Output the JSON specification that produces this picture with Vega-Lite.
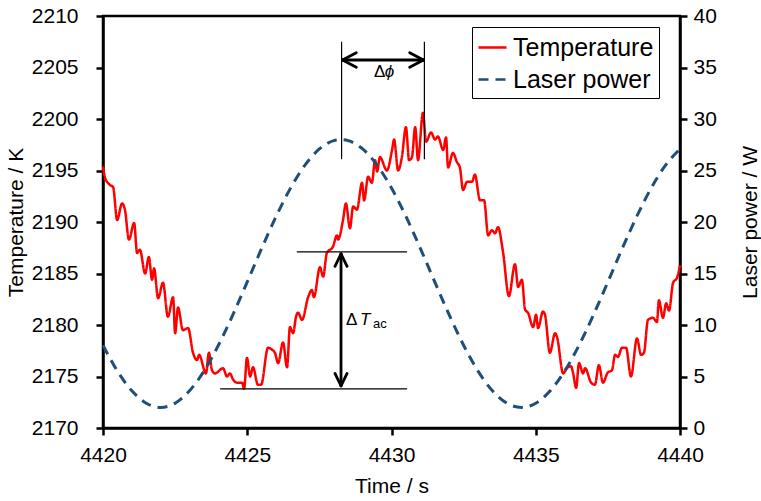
{
  "$schema": "https://vega.github.io/schema/vega-lite/v6.json",
  "width": 577,
  "height": 412,
  "autosize": {"type": "none"},
  "padding": {"left": 103, "top": 16, "right": 81, "bottom": 73},
  "background": "white",
  "config": {
    "font": "Liberation Sans",
    "view": {"stroke": "#000", "strokeWidth": 2.5},
    "axis": {
      "grid": false, "domainColor": "#000", "domainWidth": 2.5,
      "ticks": true, "tickColor": "#000", "tickWidth": 2.5, "tickSize": 7, "tickOpacity": 1,
      "labelFontSize": 21, "labelColor": "#000", "labelFlush": false, "labelOverlap": false, "format": "d",
      "titleFontSize": 21, "titleFontWeight": "normal", "titleColor": "#000"
    },
    "legend": {
      "orient": "none", "legendX": 369, "legendY": 11,
      "strokeColor": "#000", "strokeWidth": 1, "padding": 5,
      "labelFontSize": 25, "labelColor": "#000", "labelOffset": 5,
      "symbolType": "stroke", "symbolSize": 784, "symbolStrokeWidth": 2.5,
      "rowPadding": 3
    }
  },
  "datasets": {
    "temp": [
      {"t":4420.00,"T":2195.4,"s":"Temperature"},{"t":4420.07,"T":2194.3,"s":"Temperature"},{"t":4420.24,"T":2193.6,"s":"Temperature"},{"t":4420.35,"T":2193.4,"s":"Temperature"},
      {"t":4420.49,"T":2190.2,"s":"Temperature"},{"t":4420.66,"T":2191.8,"s":"Temperature"},{"t":4420.76,"T":2191.2,"s":"Temperature"},{"t":4420.90,"T":2188.3,"s":"Temperature"},
      {"t":4421.08,"T":2189.9,"s":"Temperature"},{"t":4421.18,"T":2187.0,"s":"Temperature"},{"t":4421.28,"T":2187.3,"s":"Temperature"},{"t":4421.46,"T":2185.0,"s":"Temperature"},
      {"t":4421.59,"T":2186.6,"s":"Temperature"},{"t":4421.70,"T":2184.4,"s":"Temperature"},{"t":4421.77,"T":2185.5,"s":"Temperature"},{"t":4421.91,"T":2182.6,"s":"Temperature"},
      {"t":4422.08,"T":2184.1,"s":"Temperature"},{"t":4422.25,"T":2180.8,"s":"Temperature"},{"t":4422.43,"T":2182.7,"s":"Temperature"},{"t":4422.50,"T":2179.2,"s":"Temperature"},
      {"t":4422.60,"T":2181.7,"s":"Temperature"},{"t":4422.77,"T":2179.5,"s":"Temperature"},{"t":4422.95,"T":2179.7,"s":"Temperature"},{"t":4423.12,"T":2177.3,"s":"Temperature"},
      {"t":4423.26,"T":2176.6,"s":"Temperature"},{"t":4423.33,"T":2177.1,"s":"Temperature"},{"t":4423.57,"T":2175.3,"s":"Temperature"},{"t":4423.67,"T":2177.3,"s":"Temperature"},
      {"t":4423.78,"T":2175.6,"s":"Temperature"},{"t":4423.88,"T":2175.3,"s":"Temperature"},{"t":4424.16,"T":2175.8,"s":"Temperature"},{"t":4424.30,"T":2175.0,"s":"Temperature"},
      {"t":4424.40,"T":2175.3,"s":"Temperature"},{"t":4424.51,"T":2174.7,"s":"Temperature"},{"t":4424.65,"T":2174.4,"s":"Temperature"},{"t":4424.82,"T":2174.4,"s":"Temperature"},
      {"t":4424.89,"T":2173.8,"s":"Temperature"},{"t":4424.99,"T":2176.8,"s":"Temperature"},{"t":4425.10,"T":2175.0,"s":"Temperature"},{"t":4425.20,"T":2175.9,"s":"Temperature"},
      {"t":4425.37,"T":2174.2,"s":"Temperature"},{"t":4425.48,"T":2174.2,"s":"Temperature"},{"t":4425.72,"T":2177.8,"s":"Temperature"},{"t":4425.86,"T":2177.6,"s":"Temperature"},
      {"t":4425.96,"T":2177.3,"s":"Temperature"},{"t":4426.07,"T":2176.3,"s":"Temperature"},{"t":4426.24,"T":2178.3,"s":"Temperature"},{"t":4426.38,"T":2175.9,"s":"Temperature"},
      {"t":4426.48,"T":2179.8,"s":"Temperature"},{"t":4426.59,"T":2179.2,"s":"Temperature"},{"t":4426.69,"T":2180.8,"s":"Temperature"},{"t":4426.76,"T":2181.2,"s":"Temperature"},
      {"t":4426.90,"T":2180.5,"s":"Temperature"},{"t":4427.11,"T":2182.7,"s":"Temperature"},{"t":4427.24,"T":2183.4,"s":"Temperature"},{"t":4427.31,"T":2182.7,"s":"Temperature"},
      {"t":4427.52,"T":2185.6,"s":"Temperature"},{"t":4427.63,"T":2184.7,"s":"Temperature"},{"t":4427.76,"T":2187.0,"s":"Temperature"},{"t":4427.97,"T":2187.6,"s":"Temperature"},
      {"t":4428.11,"T":2188.7,"s":"Temperature"},{"t":4428.15,"T":2188.3,"s":"Temperature"},{"t":4428.32,"T":2190.2,"s":"Temperature"},{"t":4428.42,"T":2191.8,"s":"Temperature"},
      {"t":4428.56,"T":2189.4,"s":"Temperature"},{"t":4428.67,"T":2191.5,"s":"Temperature"},{"t":4428.80,"T":2191.2,"s":"Temperature"},{"t":4428.98,"T":2193.8,"s":"Temperature"},
      {"t":4429.05,"T":2192.1,"s":"Temperature"},{"t":4429.19,"T":2194.4,"s":"Temperature"},{"t":4429.32,"T":2193.8,"s":"Temperature"},{"t":4429.43,"T":2196.0,"s":"Temperature"},
      {"t":4429.50,"T":2194.9,"s":"Temperature"},{"t":4429.60,"T":2196.3,"s":"Temperature"},{"t":4429.84,"T":2195.0,"s":"Temperature"},{"t":4430.02,"T":2197.0,"s":"Temperature"},
      {"t":4430.09,"T":2198.0,"s":"Temperature"},{"t":4430.23,"T":2195.0,"s":"Temperature"},{"t":4430.36,"T":2196.3,"s":"Temperature"},{"t":4430.50,"T":2199.2,"s":"Temperature"},
      {"t":4430.61,"T":2196.0,"s":"Temperature"},{"t":4430.71,"T":2196.3,"s":"Temperature"},{"t":4430.82,"T":2199.2,"s":"Temperature"},{"t":4430.92,"T":2196.0,"s":"Temperature"},
      {"t":4431.09,"T":2200.6,"s":"Temperature"},{"t":4431.20,"T":2197.8,"s":"Temperature"},{"t":4431.37,"T":2198.7,"s":"Temperature"},{"t":4431.51,"T":2198.0,"s":"Temperature"},
      {"t":4431.61,"T":2198.3,"s":"Temperature"},{"t":4431.79,"T":2197.0,"s":"Temperature"},{"t":4431.89,"T":2198.2,"s":"Temperature"},{"t":4431.96,"T":2195.3,"s":"Temperature"},
      {"t":4432.13,"T":2196.7,"s":"Temperature"},{"t":4432.27,"T":2195.8,"s":"Temperature"},{"t":4432.37,"T":2195.3,"s":"Temperature"},{"t":4432.48,"T":2193.1,"s":"Temperature"},
      {"t":4432.62,"T":2193.9,"s":"Temperature"},{"t":4432.79,"T":2193.9,"s":"Temperature"},{"t":4432.89,"T":2194.6,"s":"Temperature"},{"t":4433.07,"T":2192.1,"s":"Temperature"},
      {"t":4433.21,"T":2192.1,"s":"Temperature"},{"t":4433.35,"T":2188.7,"s":"Temperature"},{"t":4433.48,"T":2189.2,"s":"Temperature"},{"t":4433.59,"T":2188.9,"s":"Temperature"},
      {"t":4433.69,"T":2189.5,"s":"Temperature"},{"t":4433.87,"T":2187.0,"s":"Temperature"},{"t":4434.07,"T":2182.8,"s":"Temperature"},{"t":4434.28,"T":2185.9,"s":"Temperature"},
      {"t":4434.39,"T":2183.7,"s":"Temperature"},{"t":4434.52,"T":2184.4,"s":"Temperature"},{"t":4434.63,"T":2181.5,"s":"Temperature"},{"t":4434.73,"T":2181.2,"s":"Temperature"},
      {"t":4434.91,"T":2179.8,"s":"Temperature"},{"t":4435.01,"T":2181.0,"s":"Temperature"},{"t":4435.08,"T":2179.7,"s":"Temperature"},{"t":4435.25,"T":2181.3,"s":"Temperature"},
      {"t":4435.32,"T":2181.0,"s":"Temperature"},{"t":4435.49,"T":2177.3,"s":"Temperature"},{"t":4435.67,"T":2179.2,"s":"Temperature"},{"t":4435.74,"T":2178.8,"s":"Temperature"},
      {"t":4435.95,"T":2175.3,"s":"Temperature"},{"t":4436.08,"T":2175.8,"s":"Temperature"},{"t":4436.22,"T":2176.0,"s":"Temperature"},{"t":4436.29,"T":2175.4,"s":"Temperature"},
      {"t":4436.40,"T":2173.9,"s":"Temperature"},{"t":4436.50,"T":2176.3,"s":"Temperature"},{"t":4436.64,"T":2175.3,"s":"Temperature"},{"t":4436.71,"T":2175.8,"s":"Temperature"},
      {"t":4436.92,"T":2174.4,"s":"Temperature"},{"t":4437.05,"T":2174.2,"s":"Temperature"},{"t":4437.19,"T":2176.1,"s":"Temperature"},{"t":4437.33,"T":2174.4,"s":"Temperature"},
      {"t":4437.50,"T":2175.4,"s":"Temperature"},{"t":4437.64,"T":2175.6,"s":"Temperature"},{"t":4437.75,"T":2177.1,"s":"Temperature"},{"t":4437.85,"T":2176.9,"s":"Temperature"},
      {"t":4437.99,"T":2177.8,"s":"Temperature"},{"t":4438.13,"T":2177.8,"s":"Temperature"},{"t":4438.30,"T":2175.0,"s":"Temperature"},{"t":4438.51,"T":2178.7,"s":"Temperature"},
      {"t":4438.65,"T":2177.1,"s":"Temperature"},{"t":4438.75,"T":2177.3,"s":"Temperature"},{"t":4438.89,"T":2180.5,"s":"Temperature"},{"t":4439.06,"T":2180.7,"s":"Temperature"},
      {"t":4439.20,"T":2180.3,"s":"Temperature"},{"t":4439.27,"T":2182.4,"s":"Temperature"},{"t":4439.41,"T":2180.7,"s":"Temperature"},{"t":4439.52,"T":2182.1,"s":"Temperature"},
      {"t":4439.62,"T":2181.4,"s":"Temperature"},{"t":4439.76,"T":2184.1,"s":"Temperature"},{"t":4439.90,"T":2184.6,"s":"Temperature"},{"t":4440.00,"T":2185.8,"s":"Temperature"}
    ],
    "power": [
      {"t":4420.0,"P":8.03,"s":"Laser power"},{"t":4420.5,"P":5.52,"s":"Laser power"},{"t":4421.0,"P":3.61,"s":"Laser power"},{"t":4421.5,"P":2.41,"s":"Laser power"},
      {"t":4422.0,"P":2.0,"s":"Laser power"},{"t":4422.5,"P":2.41,"s":"Laser power"},{"t":4423.0,"P":3.61,"s":"Laser power"},{"t":4423.5,"P":5.52,"s":"Laser power"},
      {"t":4424.0,"P":8.03,"s":"Laser power"},{"t":4424.5,"P":10.98,"s":"Laser power"},{"t":4425.0,"P":14.18,"s":"Laser power"},{"t":4425.5,"P":17.44,"s":"Laser power"},
      {"t":4426.0,"P":20.54,"s":"Laser power"},{"t":4426.5,"P":23.29,"s":"Laser power"},{"t":4427.0,"P":25.52,"s":"Laser power"},{"t":4427.5,"P":27.09,"s":"Laser power"},
      {"t":4428.0,"P":27.9,"s":"Laser power"},{"t":4428.25,"P":28.0,"s":"Laser power"},{"t":4428.5,"P":27.9,"s":"Laser power"},{"t":4429.0,"P":27.09,"s":"Laser power"},
      {"t":4429.5,"P":25.52,"s":"Laser power"},{"t":4430.0,"P":23.29,"s":"Laser power"},{"t":4430.5,"P":20.54,"s":"Laser power"},{"t":4431.0,"P":17.44,"s":"Laser power"},
      {"t":4431.5,"P":14.18,"s":"Laser power"},{"t":4432.0,"P":10.98,"s":"Laser power"},{"t":4432.5,"P":8.03,"s":"Laser power"},{"t":4433.0,"P":5.52,"s":"Laser power"},
      {"t":4433.5,"P":3.61,"s":"Laser power"},{"t":4434.0,"P":2.41,"s":"Laser power"},{"t":4434.5,"P":2.0,"s":"Laser power"},{"t":4435.0,"P":2.41,"s":"Laser power"},
      {"t":4435.5,"P":3.61,"s":"Laser power"},{"t":4436.0,"P":5.52,"s":"Laser power"},{"t":4436.5,"P":8.03,"s":"Laser power"},{"t":4437.0,"P":10.98,"s":"Laser power"},
      {"t":4437.5,"P":14.18,"s":"Laser power"},{"t":4438.0,"P":17.44,"s":"Laser power"},{"t":4438.5,"P":20.54,"s":"Laser power"},{"t":4439.0,"P":23.29,"s":"Laser power"},
      {"t":4439.5,"P":25.52,"s":"Laser power"},{"t":4440.0,"P":27.09,"s":"Laser power"}
    ],
    "thin": [
      {"x":4428.27,"x2":4428.27,"y":2196.1,"y2":2207.5},
      {"x":4431.14,"x2":4431.14,"y":2196.1,"y2":2207.5},
      {"x":4426.72,"x2":4430.54,"y":2187.1,"y2":2187.1},
      {"x":4424.06,"x2":4430.54,"y":2173.8,"y2":2173.8}
    ],
    "thick": [
      {"x":4428.30,"x2":4431.11,"y":2205.73,"y2":2205.73},
      {"x":4428.30,"x2":4428.78,"y":2205.73,"y2":2206.44},
      {"x":4428.30,"x2":4428.78,"y":2205.73,"y2":2205.02},
      {"x":4431.11,"x2":4430.63,"y":2205.73,"y2":2206.44},
      {"x":4431.11,"x2":4430.63,"y":2205.73,"y2":2205.02},
      {"x":4428.25,"x2":4428.25,"y":2186.9,"y2":2174.1},
      {"x":4428.25,"x2":4428.04,"y":2186.9,"y2":2185.7},
      {"x":4428.25,"x2":4428.46,"y":2186.9,"y2":2185.7},
      {"x":4428.25,"x2":4428.04,"y":2174.1,"y2":2175.3},
      {"x":4428.25,"x2":4428.46,"y":2174.1,"y2":2175.3}
    ],
    "txtNormal": [
      {"x":4429.39,"y":2204.1,"label":"Δ"},
      {"x":4428.42,"y":2180.0,"label":"Δ"}
    ],
    "txtItalic": [
      {"x":4429.77,"y":2204.1,"label":"ϕ"},
      {"x":4428.91,"y":2180.0,"label":"T"}
    ],
    "txtSmall": [
      {"x":4429.36,"y":2179.7,"label":"ac"}
    ]
  },
  "layer": [
    {
      "layer": [
        {
          "data": {"name": "temp"},
          "mark": {"type": "line", "strokeWidth": 2.5, "interpolate": "monotone"},
          "encoding": {
            "x": {"field": "t", "type": "quantitative",
              "scale": {"domain": [4420, 4440], "nice": false, "zero": false},
              "axis": {"title": "Time / s", "values": [4420, 4425, 4430, 4435, 4440], "labelPadding": 9, "titlePadding": 10,
                "encode": {"ticks": {"enter": {"y2": {"value": -7}}, "update": {"y2": {"value": -7}}}}}},
            "y": {"field": "T", "type": "quantitative",
              "scale": {"domain": [2170, 2210], "nice": false, "zero": false},
              "axis": {"title": "Temperature / K", "orient": "left", "values": [2170, 2175, 2180, 2185, 2190, 2195, 2200, 2205, 2210], "labelPadding": 18, "titlePadding": 5,
                "encode": {"ticks": {"enter": {"x2": {"value": 7}}, "update": {"x2": {"value": 7}}}}}},
            "color": {"field": "s", "type": "nominal",
              "scale": {"domain": ["Temperature", "Laser power"], "range": ["#ff0000", "#1f4e79"]},
              "legend": {"title": null}},
            "strokeDash": {"field": "s", "type": "nominal",
              "scale": {"domain": ["Temperature", "Laser power"], "range": [[1, 0], [10, 7]]},
              "legend": {"title": null}}
          }
        },
        {
          "data": {"name": "thin"},
          "mark": {"type": "rule", "color": "#000", "strokeWidth": 1.2},
          "encoding": {
            "x": {"field": "x", "type": "quantitative", "scale": {"domain": [4420, 4440], "nice": false, "zero": false}, "title": "Time / s"},
            "x2": {"field": "x2"},
            "y": {"field": "y", "type": "quantitative", "scale": {"domain": [2170, 2210], "nice": false, "zero": false}, "title": "Temperature / K"},
            "y2": {"field": "y2"}
          }
        },
        {
          "data": {"name": "thick"},
          "mark": {"type": "rule", "color": "#000", "strokeWidth": 2.8, "strokeCap": "round"},
          "encoding": {
            "x": {"field": "x", "type": "quantitative", "scale": {"domain": [4420, 4440], "nice": false, "zero": false}, "title": "Time / s"},
            "x2": {"field": "x2"},
            "y": {"field": "y", "type": "quantitative", "scale": {"domain": [2170, 2210], "nice": false, "zero": false}, "title": "Temperature / K"},
            "y2": {"field": "y2"}
          }
        },
        {
          "data": {"name": "txtNormal"},
          "mark": {"type": "text", "align": "left", "baseline": "alphabetic", "fontSize": 17, "color": "#000"},
          "encoding": {
            "x": {"field": "x", "type": "quantitative", "scale": {"domain": [4420, 4440], "nice": false, "zero": false}, "title": "Time / s"},
            "y": {"field": "y", "type": "quantitative", "scale": {"domain": [2170, 2210], "nice": false, "zero": false}, "title": "Temperature / K"},
            "text": {"field": "label"}
          }
        },
        {
          "data": {"name": "txtItalic"},
          "mark": {"type": "text", "align": "left", "baseline": "alphabetic", "fontSize": 17, "fontStyle": "italic", "color": "#000"},
          "encoding": {
            "x": {"field": "x", "type": "quantitative", "scale": {"domain": [4420, 4440], "nice": false, "zero": false}, "title": "Time / s"},
            "y": {"field": "y", "type": "quantitative", "scale": {"domain": [2170, 2210], "nice": false, "zero": false}, "title": "Temperature / K"},
            "text": {"field": "label"}
          }
        },
        {
          "data": {"name": "txtSmall"},
          "mark": {"type": "text", "align": "left", "baseline": "alphabetic", "fontSize": 13, "color": "#000"},
          "encoding": {
            "x": {"field": "x", "type": "quantitative", "scale": {"domain": [4420, 4440], "nice": false, "zero": false}, "title": "Time / s"},
            "y": {"field": "y", "type": "quantitative", "scale": {"domain": [2170, 2210], "nice": false, "zero": false}, "title": "Temperature / K"},
            "text": {"field": "label"}
          }
        }
      ]
    },
    {
      "data": {"name": "power"},
      "mark": {"type": "line", "strokeWidth": 3, "interpolate": "monotone"},
      "encoding": {
        "x": {"field": "t", "type": "quantitative", "scale": {"domain": [4420, 4440], "nice": false, "zero": false}, "title": "Time / s"},
        "y": {"field": "P", "type": "quantitative",
          "scale": {"domain": [0, 40], "nice": false, "zero": false},
          "axis": {"title": "Laser power / W", "orient": "right", "values": [0, 5, 10, 15, 20, 25, 30, 35, 40], "labelPadding": 6, "titlePadding": 23, "titleAngle": -90, "titleBaseline": "top",
            "encode": {"ticks": {"enter": {"x2": {"value": -7}}, "update": {"x2": {"value": -7}}}}}},
        "color": {"field": "s", "type": "nominal",
          "scale": {"domain": ["Temperature", "Laser power"], "range": ["#ff0000", "#1f4e79"]},
          "legend": {"title": null}},
        "strokeDash": {"field": "s", "type": "nominal",
          "scale": {"domain": ["Temperature", "Laser power"], "range": [[1, 0], [10, 7]]},
          "legend": {"title": null}}
      }
    }
  ],
  "resolve": {"scale": {"y": "independent"}}
}
